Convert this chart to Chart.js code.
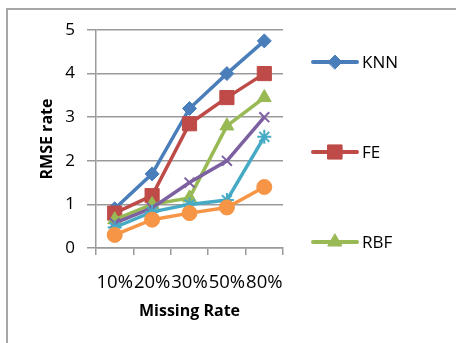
<!DOCTYPE html>
<html>
<head>
<meta charset="utf-8">
<script src="https://cdn.jsdelivr.net/npm/chart.js@4.4.0/dist/chart.umd.min.js"></script>
<style>
  html, body { margin: 0; padding: 0; background: #fff; }
  #wrap { position: relative; width: 456px; height: 343px; overflow: hidden; }
  #frame { position: absolute; left: 6px; top: 8px; width: 470px; height: 360px; border: 2px solid #a6a6a6; box-sizing: border-box; }
  canvas { position: absolute; left: 0; top: 0; }
</style>
</head>
<body>
<div id="wrap">
  <div id="frame"></div>
  <canvas id="rmseChart" width="456" height="343"></canvas>
</div>
<script>
// categories and series
const missingRates = ['10%', '20%', '30%', '50%', '80%'];
const yTicks = [0, 1, 2, 3, 4, 5];

const knn    = [0.9, 1.7, 3.2, 4.0, 4.75];
const fe     = [0.8, 1.2, 2.85, 3.45, 4.0];
const rbf    = [0.65, 1.0, 1.15, 2.8, 3.45];
const series4 = [0.57, 0.92, 1.5, 2.0, 3.0];
const series5 = [0.47, 0.83, 1.0, 1.1, 2.55];
const series6 = [0.3, 0.65, 0.8, 0.93, 1.4];

const seriesNames = ['KNN', 'FE', 'RBF', 'Series4', 'Series5', 'Series6'];
const seriesData = [knn, fe, rbf, series4, series5, series6];
const colors = ['#4a7ebb', '#be4b48', '#98b954', '#7d60a0', '#46aac5', '#f69545'];
const markers = ['rectRot', 'rect', 'triangle', 'crossRot', 'star', 'circle'];
const markerSize = [7, 10, 8, 7, 7, 7.5];

const FONT = '"Open Sans", "Liberation Sans", sans-serif';

const datasets = seriesData.map((d, i) => ({
    label: seriesNames[i],
    data: d,
    borderColor: colors[i],
    backgroundColor: colors[i],
    borderWidth: 3.5,
    pointStyle: markers[i],
    pointRadius: markerSize[i],
    pointBorderWidth: (markers[i] === 'crossRot' || markers[i] === 'star') ? 2 : 1,
    pointBackgroundColor: colors[i],
    pointBorderColor: colors[i],
    tension: 0,
    order: seriesData.length - i   // later series on top, like Excel
}));

// legend drawn by hand: only the first three entries fit in the box
const sideLegend = {
    id: 'sideLegend',
    afterDraw(chart) {
        const ctx = chart.ctx;
        const ys = [62, 152, 242];
        ctx.save();
        ys.forEach((y, i) => {
            const ds = chart.data.datasets[i];
            ctx.strokeStyle = ds.borderColor;
            ctx.lineWidth = 4;
            ctx.lineCap = 'round';
            ctx.beginPath();
            ctx.moveTo(313, y);
            ctx.lineTo(357, y);
            ctx.stroke();
            ctx.fillStyle = ds.backgroundColor;
            ctx.strokeStyle = ds.borderColor;
            ctx.lineWidth = 1;
            Chart.helpers.drawPoint(ctx, { pointStyle: ds.pointStyle, radius: ds.pointRadius, rotation: 0, borderWidth: 1 }, 335, y);
            ctx.fillStyle = '#000';
            ctx.font = '17px ' + FONT;
            ctx.textAlign = 'left';
            ctx.textBaseline = 'middle';
            ctx.fillText(ds.label, 362, y + 1);
        });
        ctx.restore();
    }
};

new Chart(document.getElementById('rmseChart'), {
    type: 'line',
    data: { labels: missingRates, datasets: datasets },
    options: {
        responsive: false,
        animation: false,
        layout: { padding: { left: 0, top: 30, right: 173, bottom: 0 } },
        plugins: { legend: { display: false }, tooltip: { enabled: false } },
        scales: {
            x: {
                offset: true,
                afterFit: s => { s.height = 95; },
                grid: { offset: true, drawOnChartArea: false, tickLength: 7, color: '#9a9a9a', lineWidth: 1.5 },
                border: { color: '#9a9a9a', width: 1.5 },
                ticks: { color: '#000', font: { family: FONT, size: 18.5 }, padding: 17, maxRotation: 0, autoSkip: false },
                title: { display: true, text: 'Missing Rate', color: '#000', font: { family: FONT, size: 16, weight: 'bold' }, padding: { bottom: 22 } }
            },
            y: {
                min: yTicks[0],
                max: yTicks[yTicks.length - 1],
                afterFit: s => { s.width = 96; },
                afterBuildTicks: s => { s.ticks = yTicks.map(v => ({ value: v })); },
                grid: { tickLength: 9, color: '#9a9a9a', lineWidth: 1.5 },
                border: { color: '#9a9a9a', width: 1.5 },
                ticks: { color: '#000', font: { family: FONT, size: 17 }, padding: 12 },
                title: { display: true, text: 'RMSE rate', color: '#000', font: { family: FONT, size: 16, weight: 'bold' }, padding: { top: 38 } }
            }
        }
    },
    plugins: [sideLegend]
});
</script>
</body>
</html>
